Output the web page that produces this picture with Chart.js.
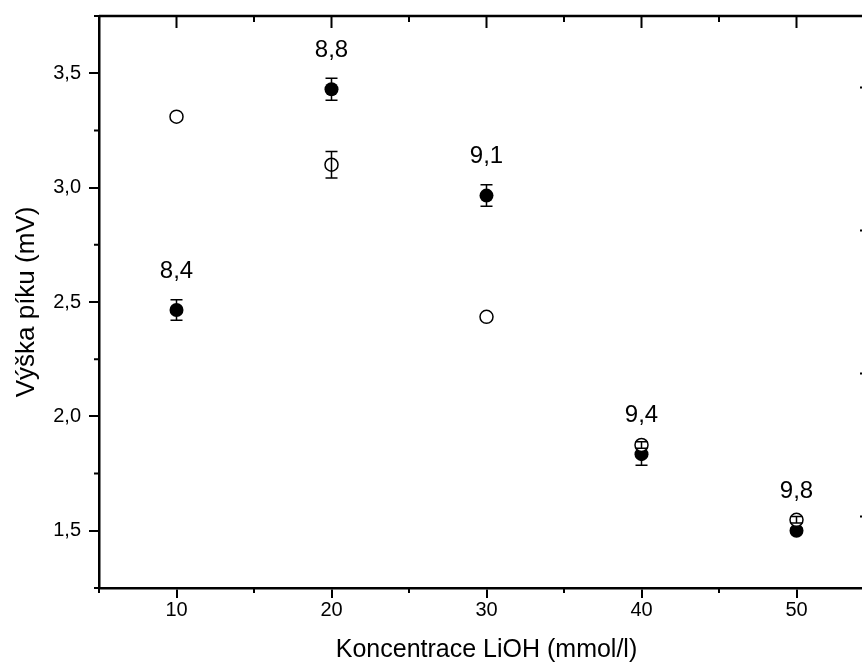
<!DOCTYPE html>
<html>
<head>
<meta charset="utf-8">
<script src="https://cdn.jsdelivr.net/npm/chart.js@4.4.1/dist/chart.umd.min.js"></script>
<style>
  html, body { margin: 0; padding: 0; background: #fff; overflow: hidden; }
  canvas { display: block; }
</style>
</head>
<body>
<canvas id="peakChart" width="900" height="668"></canvas>
<script>
// LiOH concentration (mmol/l)
const conc = [10, 20, 30, 40, 50];
// peak heights (mV), filled circles with error bars
const filledPeak = [2.465, 3.43, 2.965, 1.835, 1.50];
const filledErr = [0.045, 0.048, 0.047, 0.048, 0.012];
// peak heights (mV), open circles
const openPeak = [3.31, 3.10, 2.435, 1.875, 1.548];
const openErr = [0, 0.058, 0, 0.014, 0.014];
// pH labels above the filled points
const phLabels = ['8,4', '8,8', '9,1', '9,4', '9,8'];

const xTicks = [10, 20, 30, 40, 50];
const xMinor = [5, 15, 25, 35, 45, 55];
const yTicks = [1.5, 2.0, 2.5, 3.0, 3.5];
const yMinor = [1.25, 1.75, 2.25, 2.75, 3.25, 3.75];
const rightTicks = [8.5, 9.0, 9.5, 10.0];

const FONT = "'Liberation Sans', Arial, sans-serif";

const framePlugin = {
  id: 'frame',
  afterDatasetDraw(chart, args) {
    const ctx = chart.ctx;
    const x = chart.scales.x, y = chart.scales.y;
    const ds = chart.data.datasets[args.index];
    const errs = ds.errors;
    ctx.save();
    ctx.strokeStyle = '#000';
    ctx.lineWidth = 1.5;
    ds.data.forEach((p, i) => {
      if (!errs[i]) return;
      const px = x.getPixelForValue(p.x);
      const top = y.getPixelForValue(p.y + errs[i]);
      const bot = y.getPixelForValue(p.y - errs[i]);
      ctx.beginPath();
      ctx.moveTo(px, top); ctx.lineTo(px, bot);
      ctx.moveTo(px - 6, top); ctx.lineTo(px + 6, top);
      ctx.moveTo(px - 6, bot); ctx.lineTo(px + 6, bot);
      ctx.stroke();
    });
    ctx.restore();
  },
  afterDraw(chart) {
    const ctx = chart.ctx;
    const a = chart.chartArea;
    const x = chart.scales.x, y = chart.scales.y, y2 = chart.scales.y2;
    ctx.save();
    ctx.strokeStyle = '#000';
    ctx.lineWidth = 2.5;
    ctx.beginPath();
    ctx.moveTo(a.left, a.top); ctx.lineTo(a.right, a.top); ctx.lineTo(a.right, a.bottom);
    ctx.stroke();

    ctx.lineWidth = 2;
    ctx.beginPath();
    // top axis ticks (inward)
    xTicks.forEach(v => { const p = x.getPixelForValue(v); ctx.moveTo(p, a.top); ctx.lineTo(p, a.top + 12); });
    xMinor.forEach(v => { const p = x.getPixelForValue(v); ctx.moveTo(p, a.top); ctx.lineTo(p, a.top + 6); });
    // bottom minor ticks (outward)
    xMinor.forEach(v => { const p = x.getPixelForValue(v); ctx.moveTo(p, a.bottom); ctx.lineTo(p, a.bottom + 5); });
    // left minor ticks (outward)
    yMinor.forEach(v => { const p = y.getPixelForValue(v); ctx.moveTo(a.left, p); ctx.lineTo(a.left - 5, p); });
    // right axis ticks (inward)
    rightTicks.forEach(v => { const p = y2.getPixelForValue(v); ctx.moveTo(a.right, p); ctx.lineTo(a.right - 14, p); });
    ctx.stroke();

    // pH labels
    ctx.fillStyle = '#000';
    ctx.font = '24px ' + FONT;
    ctx.textAlign = 'center';
    ctx.textBaseline = 'middle';
    conc.forEach((c, i) => {
      ctx.fillText(phLabels[i], x.getPixelForValue(c), y.getPixelForValue(filledPeak[i]) - 39);
    });
    ctx.restore();
  }
};

new Chart(document.getElementById('peakChart'), {
  type: 'scatter',
  data: {
    datasets: [
      {
        label: 'open',
        data: conc.map((c, i) => ({ x: c, y: openPeak[i] })),
        errors: openErr,
        pointRadius: 6.5,
        pointBackgroundColor: '#fff',
        pointBorderColor: '#000',
        pointBorderWidth: 1.5
      },
      {
        label: 'filled',
        data: conc.map((c, i) => ({ x: c, y: filledPeak[i] })),
        errors: filledErr,
        pointRadius: 7,
        pointBackgroundColor: '#000',
        pointBorderColor: '#000',
        pointBorderWidth: 0
      }
    ]
  },
  options: {
    responsive: false,
    devicePixelRatio: 1,
    animation: false,
    events: [],
    layout: { padding: { left: 0, top: 16, right: 26, bottom: 0 } },
    plugins: { legend: { display: false }, tooltip: { enabled: false } },
    scales: {
      x: {
        type: 'linear',
        position: 'bottom',
        min: 5,
        max: 55,
        afterBuildTicks: s => { s.ticks = xTicks.map(v => ({ value: v })); },
        afterFit: s => { s.height = 80; s.paddingLeft = 0; s.paddingRight = 0; },
        grid: { drawOnChartArea: false, color: '#000', lineWidth: 2, tickLength: 10 },
        border: { color: '#000', width: 2.5 },
        ticks: { color: '#000', font: { family: FONT, size: 20 }, padding: 0, maxRotation: 0 },
        title: {
          display: true,
          text: 'Koncentrace LiOH (mmol/l)',
          color: '#000',
          font: { family: FONT, size: 25 },
          padding: { top: 0, bottom: 3 }
        }
      },
      y: {
        position: 'left',
        min: 1.25,
        max: 3.75,
        afterBuildTicks: s => { s.ticks = yTicks.map(v => ({ value: v })); },
        afterFit: s => { s.width = 99; s.paddingTop = 0; s.paddingBottom = 0; },
        grid: { drawOnChartArea: false, color: '#000', lineWidth: 2, tickLength: 10 },
        border: { color: '#000', width: 2.5 },
        ticks: {
          color: '#000',
          font: { family: FONT, size: 20 },
          padding: 8,
          callback: v => v.toFixed(1).replace('.', ',')
        },
        title: {
          display: true,
          text: 'Výška píku (mV)',
          color: '#000',
          font: { family: FONT, size: 26 },
          padding: { top: 11, bottom: 0 }
        }
      },
      y2: {
        position: 'right',
        display: false,
        min: 8.25,
        max: 10.25
      }
    }
  },
  plugins: [framePlugin]
});
</script>
</body>
</html>
